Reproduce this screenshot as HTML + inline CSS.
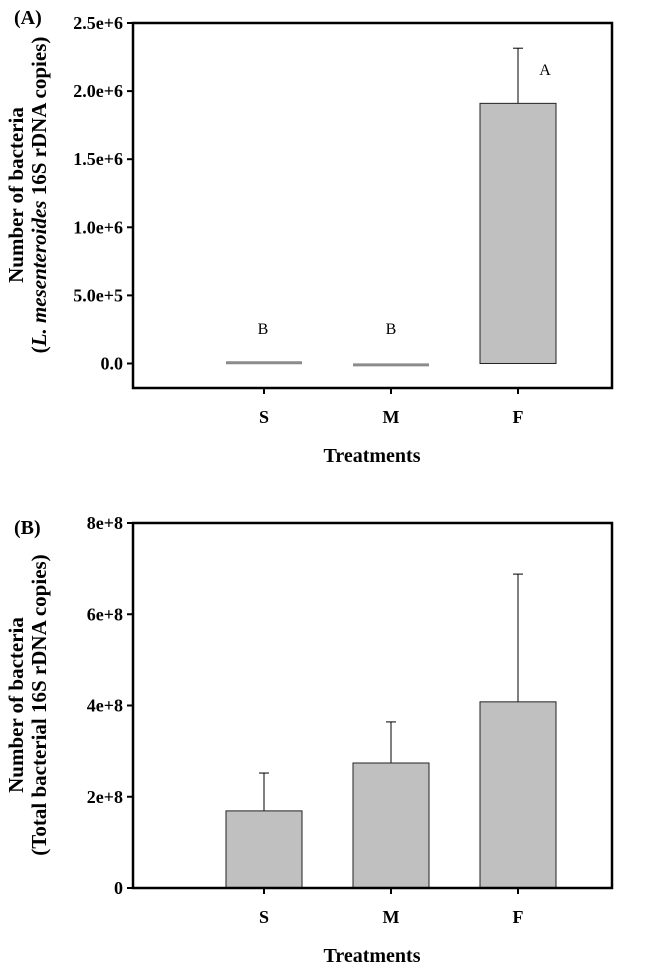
<!DOCTYPE html>
<html><head><meta charset="utf-8"><style>
html,body{margin:0;padding:0;background:#fff;}
svg{display:block;font-family:"Liberation Serif",serif;}
</style></head><body>
<svg id="fig" width="648" height="968" viewBox="0 0 648 968">
</svg>
<script>
const categories = ["S","M","F"];
const valuesA = [0.005e6, -0.01e6, 1.91e6];
const errorsA = [0, 0, 0.405e6];
const lettersA = ["B","B","A"];
const ticksA = [0, 0.5e6, 1.0e6, 1.5e6, 2.0e6, 2.5e6];
const tickLabelsA = ["0.0","5.0e+5","1.0e+6","1.5e+6","2.0e+6","2.5e+6"];
const valuesB = [1.69e8, 2.74e8, 4.08e8];
const errorsB = [0.83e8, 0.90e8, 2.80e8];
const ticksB = [0, 2e8, 4e8, 6e8, 8e8];
const tickLabelsB = ["0","2e+8","4e+8","6e+8","8e+8"];

const NS = "http://www.w3.org/2000/svg";
const svg = document.getElementById("fig");
function mk(tag, attrs, parent, text){
  const e = document.createElementNS(NS, tag);
  for (const k in attrs) e.setAttribute(k, attrs[k]);
  if (text !== undefined) e.textContent = text;
  (parent || svg).appendChild(e);
  return e;
}
const catX = [264, 391, 518];
function xScale(i){ return catX[i]; }

function panel(opt){
  const g = mk("g", {}, svg);
  
  
  const L=133, R=612, T=opt.top, B=opt.bottom;
  const y = v => B - (v - opt.min) / (opt.max - opt.min) * (B - T);
  for (let i=0;i<categories.length;i++){
    const cx = xScale(i), w = 76;
    const v = opt.values[i];
    if (opt.flat && opt.flat[i]){
      const ln = mk("line", {x1:cx-38, x2:cx+38, y1:y(v), y2:y(v), stroke:"#8c8c8c","stroke-width":3}, g);
      
      
    } else {
      const e = opt.errors[i];
      const eb = mk("line", {x1:cx, x2:cx, y1:y(v), y2:y(v+e), stroke:"#000","stroke-width":1}, g);
      
      
      const cap = mk("line", {x1:cx-5, x2:cx+5, y1:y(v+e), y2:y(v+e), stroke:"#000","stroke-width":1}, g);
      
      
      const r = mk("rect", {x:cx-w/2, y:y(v), width:w, height:y(0)-y(v), fill:"#c0c0c0", stroke:"#222","stroke-width":1}, g);
      
      
    }
    if (opt.letters){
      const t = mk("text", {x: opt.letterX[i], y: opt.letterY[i], "text-anchor":"middle","font-size":16}, g, opt.letters[i]);
      
      
    }
    const tk = mk("line", {x1:cx, x2:cx, y1:B, y2:B+6, stroke:"#000","stroke-width":2}, g);
    
    
    const tl = mk("text", {x:cx, y:B+35, "text-anchor":"middle","font-size":18,"font-weight":"bold"}, g, categories[i]);
    
    
  }
  const fr = mk("rect", {x:L, y:T, width:R-L, height:B-T, fill:"none", stroke:"#000","stroke-width":2.5}, g);
  
  
  for (let j=0;j<opt.ticks.length;j++){
    const ty = y(opt.ticks[j]);
    const tk = mk("line", {x1:L-6, x2:L, y1:ty, y2:ty, stroke:"#000","stroke-width":2}, g);
    
    
    const tl = mk("text", {x:L-10, y:ty+6, "text-anchor":"end","font-size":18,"font-weight":"bold"}, g, opt.tickLabels[j]);
    
    
  }
  const xt = mk("text", {x:372, y:B+74, "text-anchor":"middle","font-size":20,"font-weight":"bold"}, g, "Treatments");
  
  
  const cy = opt.titleY;
  const yt = mk("text", {transform:"translate(23,"+cy+") rotate(-90)", "text-anchor":"middle","font-size":21,"font-weight":"bold"}, g, "Number of bacteria");
  
  
  const yt2 = mk("text", {transform:"translate(46,"+cy+") rotate(-90)", "text-anchor":"middle","font-size":21,"font-weight":"bold"}, g);
  yt2.innerHTML = opt.sub;
  
  
  const pl = mk("text", {x:14, y:opt.labelY, "font-size":20,"font-weight":"bold"}, g, opt.label);
  
  
}
panel({name:"panel-a", top:23, bottom:388, min:-0.18e6, max:2.5e6,
  values:valuesA, errors:errorsA, flat:[true,true,false],
  ticks:ticksA, tickLabels:tickLabelsA,
  letters:lettersA, letterY:[334,334,75], letterX:[263,391,545],
  sub:'(<tspan font-style="italic">L. mesenteroides</tspan> 16S rDNA copies)',
  label:"(A)", labelY:24, titleY:195});
panel({name:"panel-b", top:523, bottom:888, min:0, max:8e8,
  values:valuesB, errors:errorsB, ticks:ticksB, tickLabels:tickLabelsB,
  sub:'(Total bacterial 16S rDNA copies)', label:"(B)", labelY:534, titleY:705});
</script>
</body></html>
